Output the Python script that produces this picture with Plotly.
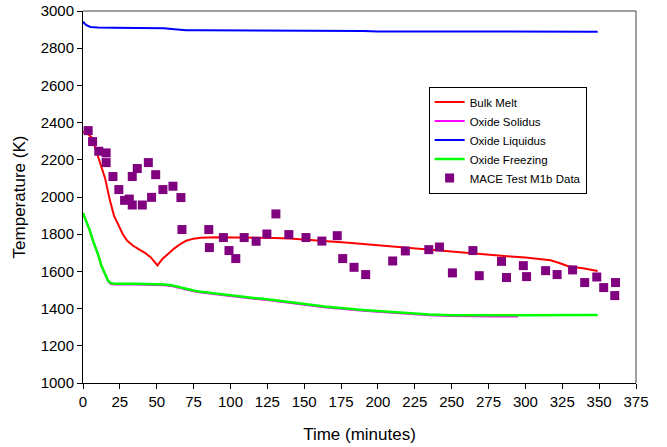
import plotly.graph_objects as go

# Bulk Melt
bulk_t = [0, 3, 6, 9, 12, 15, 18, 21, 24, 27, 30, 34, 38, 42, 46, 50.5, 54, 58, 62, 66, 70, 75, 80, 90, 100, 110, 120, 130, 140, 150, 160, 170, 180, 190, 200, 210, 220, 230, 240, 250, 260, 270, 280, 290, 300, 310, 317, 323, 329, 340, 349]
bulk_T = [2350, 2340, 2320, 2250, 2170, 2100, 1990, 1900, 1850, 1800, 1765, 1738, 1718, 1700, 1675, 1632, 1668, 1698, 1724, 1747, 1765, 1776, 1781, 1783, 1783, 1783, 1782, 1780, 1777, 1772, 1767, 1761, 1754, 1747, 1740, 1733, 1727, 1721, 1715, 1707, 1700, 1693, 1686, 1680, 1675, 1668, 1660, 1645, 1628, 1615, 1602]

# Oxide Liquidus
liq_t = [0, 2, 5, 10, 20, 40, 55, 62, 70, 80, 100, 150, 190, 200, 250, 300, 349]
liq_T = [2942, 2925, 2914, 2911, 2910, 2909, 2907, 2902, 2897, 2896, 2896, 2895, 2893, 2890, 2890, 2889, 2889]

# Oxide Freezing
frz_t = [0, 2, 4.4, 7, 10, 12.5, 14.6, 17, 19, 22, 35, 45, 55, 60, 65, 70, 75, 80, 90, 100, 110, 125, 145, 165, 190, 210, 235, 250, 260, 280, 300, 320, 349]
frz_T = [1914, 1875, 1825, 1760, 1696, 1630, 1588, 1550, 1537, 1534, 1534, 1533, 1530, 1525, 1515, 1505, 1497, 1490, 1480, 1471, 1462, 1450, 1429, 1410, 1392, 1380, 1368, 1364, 1363, 1364, 1364, 1365, 1366]

# Oxide Solidus
sol_t = [0, 2, 4.4, 7, 10, 12.5, 14.6, 17, 19, 22, 35, 45, 55, 60, 65, 70, 75, 80, 90, 100, 110, 125, 145, 165, 190, 210, 235, 250, 260, 280, 295]
sol_T = [1914, 1875, 1825, 1760, 1696, 1630, 1586, 1546, 1532, 1529, 1529, 1528, 1526, 1521, 1511, 1501, 1493, 1486, 1476, 1467, 1458, 1446, 1425, 1406, 1388, 1376, 1364, 1360, 1358, 1358, 1358]

# MACE Test M1b Data
mace_t = [3.5, 6.5, 10.7, 15.7, 15.7, 20.3, 24.3, 28.2, 31.4, 33.4, 33.4, 36.8, 40.2, 44.3, 46.5, 49.3, 54.2, 61, 66.4, 67.1, 85.3, 85.7, 95.2, 99, 103.6, 109.3, 117.4, 124.7, 130.8, 139.6, 151.2, 162, 172.4, 176.1, 183.8, 191.7, 210, 218.6, 234.5, 241.7, 250.5, 264.4, 268.7, 283.8, 287.2, 298.6, 300.8, 313.7, 321.5, 332, 340.2, 348.4, 353.1, 361.1, 360.6]
mace_T = [2357, 2298, 2246, 2237, 2185, 2110, 2040, 1982, 1989, 1957, 2110, 2153, 1957, 2185, 1998, 2120, 2040, 2058, 1997, 1825, 1825, 1728, 1782, 1712, 1669, 1782, 1762, 1801, 1909, 1798, 1782, 1763, 1792, 1669, 1622, 1583, 1656, 1710, 1717, 1731, 1592, 1712, 1577, 1654, 1567, 1631, 1572, 1604, 1583, 1608, 1540, 1570, 1513, 1540, 1470]

x_ticks = list(range(0, 376, 25))
y_ticks = list(range(1000, 3001, 200))

fig = go.Figure()
fig.add_trace(go.Scatter(x=bulk_t, y=bulk_T, mode="lines", name="Bulk Melt",
                         line=dict(color="#FF0000", width=2)))
fig.add_trace(go.Scatter(x=sol_t, y=sol_T, mode="lines", name="Oxide Solidus",
                         line=dict(color="#FF00FF", width=2)))
fig.add_trace(go.Scatter(x=liq_t, y=liq_T, mode="lines", name="Oxide Liquidus",
                         line=dict(color="#0000FF", width=2)))
fig.add_trace(go.Scatter(x=frz_t, y=frz_T, mode="lines", name="Oxide Freezing",
                         line=dict(color="#00FF00", width=2.5)))
fig.add_trace(go.Scatter(x=mace_t, y=mace_T, mode="markers", name="MACE Test M1b Data",
                         marker=dict(color="#800080", symbol="square", size=9, line=dict(width=0))))

font_family = "Liberation Sans, Arial, sans-serif"
fig.update_layout(
    width=667, height=447,
    margin=dict(l=83, r=31, t=11, b=64, autoexpand=False),
    paper_bgcolor="white", plot_bgcolor="white",
    font=dict(family=font_family, color="black"),
    showlegend=True,
    legend=dict(x=0.625, y=0.797, xanchor="left", yanchor="top",
                bgcolor="white", bordercolor="black", borderwidth=1,
                font=dict(size=11.5, family=font_family), tracegroupgap=0,
                itemwidth=30),
    xaxis=dict(range=[0, 375], tickvals=x_ticks, ticks="outside", ticklen=5,
               tickcolor="black", showline=True, linecolor="black", linewidth=1,
               showgrid=False, zeroline=False, tickfont=dict(size=15), automargin=False,
               title=dict(text="Time (minutes)", font=dict(size=17), standoff=19)),
    yaxis=dict(range=[1000, 3000], tickvals=y_ticks, ticks="outside", ticklen=5,
               tickcolor="black", showline=True, linecolor="black", linewidth=1,
               showgrid=False, zeroline=False, tickfont=dict(size=15), automargin=False,
               title=dict(text="Temperature (K)", font=dict(size=17), standoff=10)),
    shapes=[
        dict(type="line", xref="paper", yref="paper", x0=0, x1=1, y0=1, y1=1,
             line=dict(color="#808080", width=1.5)),
        dict(type="line", xref="paper", yref="paper", x0=1, x1=1, y0=0, y1=1,
             line=dict(color="#404040", width=1)),
    ],
)

fig.write_html("out.html", config={"displayModeBar": False},
               post_script="document.body.style.margin='0';")
